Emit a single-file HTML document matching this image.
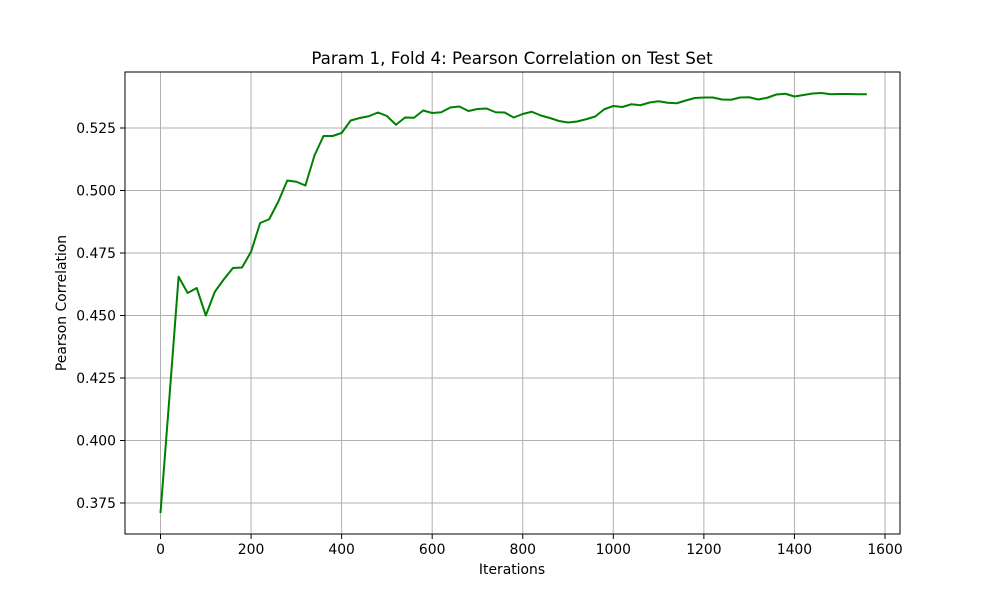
<!DOCTYPE html>
<html><head><meta charset="utf-8"><style>
body{margin:0;background:#fff;}
svg{display:block;font-family:"DejaVu Sans","Liberation Sans",sans-serif;}
</style></head><body>
<svg id="chart" width="1000" height="600">
<rect x="0" y="0" width="1000" height="600" fill="#fff"/>
<text x="512" y="64" text-anchor="middle" font-size="16.7">Param 1, Fold 4: Pearson Correlation on Test Set</text>
<g id="grid"></g>
<g id="ticks"></g>
<polyline id="series" fill="none" stroke="#008000" stroke-width="2" stroke-linejoin="round"/>
<rect x="125" y="72" width="775" height="462" fill="none" stroke="#000" stroke-width="1"/>
<text x="512" y="574" text-anchor="middle" font-size="13.9">Iterations</text>
<text transform="translate(66,303) rotate(-90)" text-anchor="middle" font-size="13.9">Pearson Correlation</text>
</svg>
<script>
const iterations = [0,20,40,60,80,100,120,140,160,180,200,220,240,260,280,300,320,340,360,380,400,420,440,460,480,500,520,540,560,580,600,620,640,660,680,700,720,740,760,780,800,820,840,860,880,900,920,940,960,980,1000,1020,1040,1060,1080,1100,1120,1140,1160,1180,1200,1220,1240,1260,1280,1300,1320,1340,1360,1380,1400,1420,1440,1460,1480,1500,1520,1540,1560];
const pearson = [0.371,0.418,0.4655,0.459,0.461,0.450,0.4595,0.4645,0.469,0.4692,0.4755,0.487,0.4885,0.4955,0.504,0.5035,0.502,0.514,0.5218,0.5218,0.523,0.528,0.529,0.5297,0.5312,0.5298,0.5263,0.5292,0.5291,0.532,0.531,0.5313,0.5332,0.5336,0.5318,0.5326,0.5328,0.5313,0.5312,0.5292,0.5306,0.5315,0.530,0.529,0.5278,0.5272,0.5276,0.5285,0.5296,0.5325,0.5338,0.5334,0.5345,0.5341,0.5352,0.5357,0.5351,0.5349,0.536,0.537,0.5372,0.5372,0.5364,0.5363,0.5372,0.5373,0.5364,0.5371,0.5384,0.5387,0.5376,0.5382,0.5388,0.5390,0.5385,0.5386,0.5386,0.5385,0.5385];
const xTicks = [0,200,400,600,800,1000,1200,1400,1600];
const yTicks = [0.375,0.400,0.425,0.450,0.475,0.500,0.525];
const yTickLabels = ["0.375","0.400","0.425","0.450","0.475","0.500","0.525"];

const NS="http://www.w3.org/2000/svg";
function xs(v){return 160.5+v*0.45281;}
function ys(v){return 503-(v-0.375)*2500;}
const grid=document.getElementById('grid'), ticks=document.getElementById('ticks');
function mk(tag,attrs,parent){const e=document.createElementNS(NS,tag);for(const k in attrs)e.setAttribute(k,attrs[k]);parent.appendChild(e);return e;}
xTicks.forEach(t=>{
  const x=xs(t);
  const g=mk('line',{x1:x,x2:x,y1:72,y2:534,stroke:'#b0b0b0','stroke-width':1},grid);
  
  
  const tk=mk('line',{x1:x,x2:x,y1:534,y2:539,stroke:'#000'},ticks);
  
  
  const tx=mk('text',{x:x,y:554,'text-anchor':'middle','font-size':13.9},ticks);
  tx.textContent=String(t);
  
  
});
yTicks.forEach((t,i)=>{
  const y=ys(t);
  const g=mk('line',{x1:125,x2:900,y1:y,y2:y,stroke:'#b0b0b0','stroke-width':1},grid);
  
  
  const tk=mk('line',{x1:120,x2:125,y1:y,y2:y,stroke:'#000'},ticks);
  
  
  const tx=mk('text',{x:116,y:y+5,'text-anchor':'end','font-size':13.9},ticks);
  tx.textContent=yTickLabels[i];
  
  
});
document.getElementById('series').setAttribute('points',iterations.map((it,i)=>xs(it).toFixed(2)+','+ys(pearson[i]).toFixed(2)).join(' '));
</script>
</body></html>
